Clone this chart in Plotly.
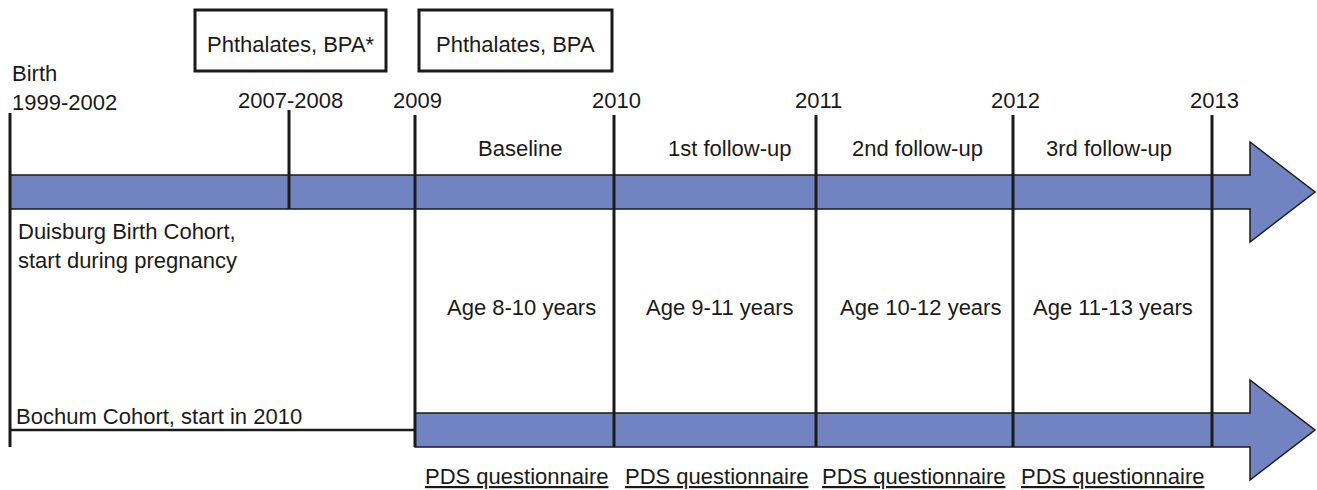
import plotly.graph_objects as go

# ---- data (schematic timeline, pixel-space layout) ----
years = ["2009", "2010", "2011", "2012", "2013"]
year_x = [415, 614, 816, 1013, 1212]
early_labels = ["Birth<br>1999-2002", "2007-2008"]
early_x = [10, 289]
phases = ["Baseline", "1st follow-up", "2nd follow-up", "3rd follow-up"]
phase_x = [520, 730, 917, 1109]
ages = ["Age 8-10 years", "Age 9-11 years", "Age 10-12 years", "Age 11-13 years"]
age_x = [521, 720, 920, 1113]
quest_x = [516, 716, 913, 1112]
box_labels = ["Phthalates, BPA*", "Phthalates, BPA"]
box_x = [(195, 386), (419, 612)]
cohorts = ["Duisburg Birth Cohort,<br>start during pregnancy", "Bochum Cohort, start in 2010"]
questionnaire = "PDS questionnaire"

W, H = 1317, 490
FILL = "#7183c0"
INK = "#1a1a1a"
FONT = "Liberation Sans, Arial, sans-serif"
FS = 22

fig = go.Figure()
shapes = []
ann = []

def arrow(x0, yc, half_bar, half_head, head_x, tip_x):
    p = (f"M{x0},{yc-half_bar} L{head_x},{yc-half_bar} L{head_x},{yc-half_head} "
         f"L{tip_x},{yc} L{head_x},{yc+half_head} L{head_x},{yc+half_bar} L{x0},{yc+half_bar} Z")
    return dict(type="path", path=p, fillcolor=FILL, line=dict(color=INK, width=1.5), layer="below")

# arrows
shapes.append(arrow(early_x[0], 192, 17, 50, 1250, 1315))
shapes.append(arrow(year_x[0], 430, 17, 50, 1250, 1315))

# vertical lines
shapes.append(dict(type="line", x0=early_x[0], x1=early_x[0], y0=113, y1=447, line=dict(color=INK, width=3)))
shapes.append(dict(type="line", x0=early_x[1], x1=early_x[1], y0=110, y1=209, line=dict(color=INK, width=3)))
for x in year_x:
    shapes.append(dict(type="line", x0=x, x1=x, y0=115, y1=447, line=dict(color=INK, width=3)))

# Bochum baseline line
shapes.append(dict(type="line", x0=early_x[0], x1=year_x[0], y0=430, y1=430, line=dict(color=INK, width=2.5)))

# boxes
for (bx0, bx1), lab in zip(box_x, box_labels):
    shapes.append(dict(type="rect", x0=bx0, x1=bx1, y0=10, y1=71, line=dict(color=INK, width=3), fillcolor="white"))
    ann.append(dict(x=(bx0 + bx1) / 2, y=44, text=lab, xanchor="center", yanchor="middle"))

# year labels
ann.append(dict(x=early_x[0], y=88, text=early_labels[0], xanchor="left", yanchor="middle", align="left"))
ann.append(dict(x=early_x[1] + 1, y=100, text=early_labels[1], xanchor="center", yanchor="middle"))
for x, y in zip(year_x, years):
    ann.append(dict(x=x + 2, y=100, text=y, xanchor="center", yanchor="middle"))

# phases, ages, questionnaires
for i in range(4):
    ann.append(dict(x=phase_x[i], y=148, text=phases[i], xanchor="center", yanchor="middle"))
    ann.append(dict(x=age_x[i], y=307, text=ages[i], xanchor="center", yanchor="middle"))
    ann.append(dict(x=quest_x[i], y=476, text=questionnaire, xanchor="center", yanchor="middle",
                    font=dict(family=FONT, size=FS, color=INK, lineposition="under")))

# cohort labels
ann.append(dict(x=16, y=246, text=cohorts[0], xanchor="left", yanchor="middle", align="left"))
ann.append(dict(x=14, y=416, text=cohorts[1], xanchor="left", yanchor="middle", align="left"))

for a in ann:
    a.setdefault("font", dict(family=FONT, size=FS, color=INK))
    a["showarrow"] = False
    a["xref"] = "x"
    a["yref"] = "y"

fig.update_layout(
    width=W, height=H,
    margin=dict(l=0, r=0, t=0, b=0),
    paper_bgcolor="white", plot_bgcolor="white",
    xaxis=dict(range=[0, W], visible=False, fixedrange=True),
    yaxis=dict(range=[H, 0], visible=False, fixedrange=True),
    shapes=shapes, annotations=ann, showlegend=False,
)
fig.write_html("out.html", config={"displayModeBar": False},
               post_script="document.body.style.margin='0';document.body.style.overflow='hidden';")
